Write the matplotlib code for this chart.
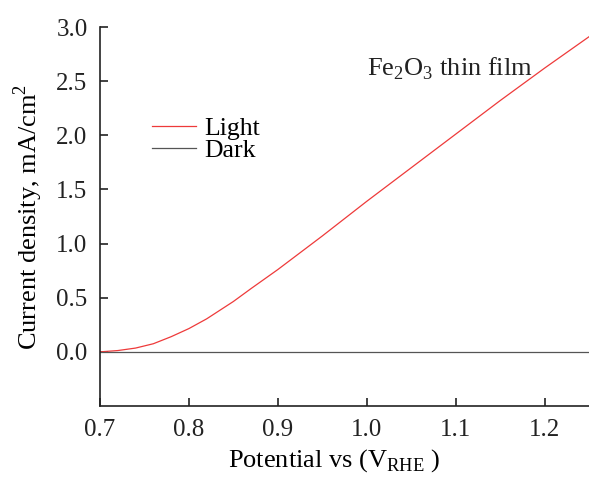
import matplotlib.pyplot as plt

plt.rcParams['font.family'] = ['Liberation Serif', 'DejaVu Serif']
plt.rcParams['mathtext.fontset'] = 'custom'
plt.rcParams['mathtext.rm'] = 'Liberation Serif'

# potential vs RHE (V) and current density (mA/cm2)
potential = [0.70, 0.72, 0.74, 0.76, 0.78, 0.80, 0.82, 0.85, 0.87,
             0.90, 0.95, 1.00, 1.05, 1.10, 1.15, 1.20, 1.25]
light = [0.0, 0.012, 0.035, 0.075, 0.14, 0.215, 0.305, 0.465, 0.585,
         0.76, 1.07, 1.39, 1.70, 2.01, 2.32, 2.62, 2.91]
dark = [0.0] * len(potential)

fig = plt.figure(figsize=(5.89, 4.78), dpi=100)
ax = fig.add_axes([100 / 589, (478 - 406) / 478, 489 / 589, 379 / 478])

ax.plot(potential, light, color='#ee3a3a', lw=0.9, label='Light')
ax.plot(potential, dark, color='#555555', lw=0.9, label='Dark')

ax.set_xlim(0.7, 1.25)
ax.set_ylim(-0.5, 3.0)
ax.set_xticks([0.7, 0.8, 0.9, 1.0, 1.1, 1.2])
ax.set_yticks([0.0, 0.5, 1.0, 1.5, 2.0, 2.5, 3.0])
ax.set_xticklabels(['0.7', '0.8', '0.9', '1.0', '1.1', '1.2'])
ax.set_yticklabels(['0.0', '0.5', '1.0', '1.5', '2.0', '2.5', '3.0'])

for s in ['top', 'right']:
    ax.spines[s].set_visible(False)
for s in ['left', 'bottom']:
    ax.spines[s].set_linewidth(1.2)
    ax.spines[s].set_color('#222222')
ax.tick_params(direction='in', length=6, width=1.2, labelsize=18, pad=9,
               colors='#222222')

ax.set_xlabel(r'Potential vs (V$_{\mathrm{RHE}}$ )', fontsize=19, labelpad=5)
ax.xaxis.label.set_x(0.479)
ax.set_ylabel(r'Current density, mA/cm$^{2}$', fontsize=19, labelpad=8)

ax.text(0.546, 0.873, r'Fe$_2$O$_3$ thin film', transform=ax.transAxes,
        fontsize=19, color='#222222', va='baseline')

ax.legend(loc='upper left', bbox_to_anchor=(0.106, 0.762), frameon=False,
          borderpad=0, fontsize=18.5, handlelength=1.7, handletextpad=0.35,
          labelspacing=-0.05, borderaxespad=0)

fig.savefig('out.png', dpi=100)
